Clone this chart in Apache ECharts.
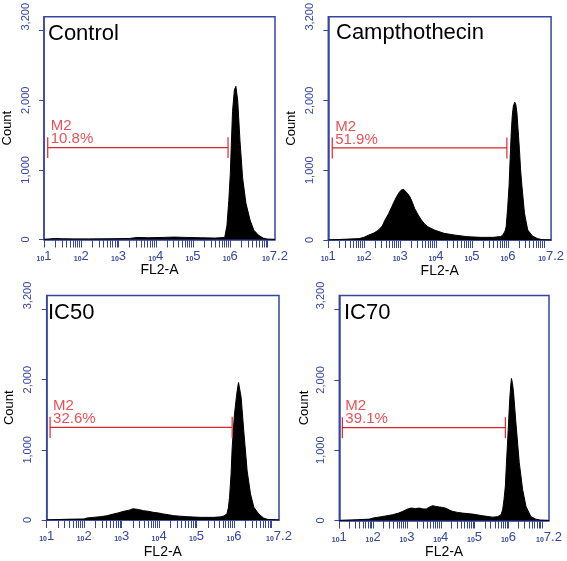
<!DOCTYPE html>
<html><head><meta charset="utf-8">
<script src="https://cdn.jsdelivr.net/npm/echarts@6/dist/echarts.min.js"></script>
<style>html,body{margin:0;padding:0;background:#fff}#c{width:567px;height:561px}</style>
</head><body><div id="c"></div>
<script>
// ---- data (x = log10 FL2-A, y = count) ----
const panelTitles = ['Control', 'Campthothecin', 'IC50', 'IC70'];
const markerName = 'M2';
const markerTexts = ['10.8%', '51.9%', '32.6%', '39.1%'];
const markerStart = [1.10, 1.11, 1.09, 1.09];
const markerEnd = [5.94, 5.97, 5.95, 5.91];
const markerLevel = 1320;
const markerHalf = 150;

const controlData = [[1.0,0],[1.02,20],[1.3,15],[1.5,10],[1.8,8],[2.2,8],[2.8,10],[3.3,15],[3.5,30],[3.8,25],[4.2,30],[4.5,35],[4.8,30],[5.2,25],[5.6,20],[5.85,30],[5.91,200],[5.96,560],[6.0,940],[6.03,1400],[6.06,1840],[6.11,2150],[6.15,2200],[6.2,1990],[6.26,1420],[6.33,890],[6.42,520],[6.53,280],[6.63,135],[6.75,65],[6.88,20],[7.0,5],[7.2,0]];
const camptoData = [[1.0,0],[1.05,15],[1.5,12],[1.86,20],[2.0,40],[2.13,72],[2.27,100],[2.4,144],[2.5,200],[2.58,288],[2.68,380],[2.77,480],[2.85,570],[2.9,620],[2.97,680],[3.04,720],[3.1,725],[3.13,710],[3.2,670],[3.27,620],[3.34,540],[3.4,455],[3.5,360],[3.59,288],[3.68,230],[3.77,190],[3.95,144],[4.22,96],[4.5,72],[4.86,48],[5.23,38],[5.59,38],[5.8,50],[5.86,72],[5.92,130],[5.95,190],[5.99,450],[6.03,770],[6.06,1150],[6.09,1530],[6.12,1780],[6.15,1920],[6.19,1975],[6.22,1940],[6.25,1820],[6.28,1600],[6.32,1295],[6.35,1020],[6.39,770],[6.46,385],[6.55,144],[6.68,58],[6.82,20],[6.95,5],[7.2,0]];
const ic50Data = [[1.0,0],[1.05,12],[1.5,10],[2.0,15],[2.07,28],[2.43,47],[2.6,60],[2.78,85],[2.9,100],[3.05,123],[3.2,140],[3.3,160],[3.35,166],[3.45,150],[3.58,133],[3.7,125],[3.85,109],[4.0,98],[4.12,85],[4.25,75],[4.39,62],[4.55,55],[4.74,47],[5.1,38],[5.46,38],[5.65,45],[5.72,57],[5.81,85],[5.85,180],[5.88,322],[5.92,650],[5.95,1030],[6.01,1500],[6.07,1790],[6.1,1900],[6.12,1960],[6.14,1965],[6.19,1745],[6.26,1270],[6.35,700],[6.44,370],[6.53,180],[6.66,85],[6.79,28],[6.9,8],[7.2,0]];
const ic70Data = [[1.0,0],[1.05,10],[1.5,10],[1.9,20],[1.99,34],[2.29,58],[2.58,82],[2.75,105],[2.88,130],[3.0,160],[3.12,177],[3.25,170],[3.37,177],[3.47,165],[3.57,163],[3.66,190],[3.76,211],[3.86,200],[3.96,192],[4.06,185],[4.16,173],[4.25,150],[4.35,130],[4.5,115],[4.65,105],[4.94,91],[5.24,67],[5.53,48],[5.68,55],[5.78,80],[5.83,153],[5.87,300],[5.91,490],[5.94,800],[5.98,1160],[6.01,1450],[6.04,1735],[6.07,1930],[6.09,2020],[6.12,1950],[6.15,1830],[6.22,1400],[6.32,825],[6.42,440],[6.52,200],[6.66,58],[6.81,19],[6.95,5],[7.2,0]];

const yLabelValues = [0, 1000, 2000, 3200];
const yTickValues = [0, 1000, 2000, 3000];
const xLabelValues = [1, 2, 3, 4, 5, 6, 7.2];
const xDecades = [1, 2, 3, 4, 5, 6, 7];
const xMinorMultipliers = [1, 2, 3, 4, 5, 6, 7, 8, 9];

// ---- layout ----
const BLUE = '#3646a0';
const RED = '#e0262c';
const FONT = 'Arial, "Liberation Sans", sans-serif';
const allData = [controlData, camptoData, ic50Data, ic70Data];
const grids = [
  {left: 42.7, top: 15.5, width: 232.3, height: 224},
  {left: 328.3, top: 16.5, width: 226.7, height: 223.5},
  {left: 46.7, top: 295.5, width: 232.3, height: 224.5},
  {left: 339.3, top: 295.5, width: 209.7, height: 225}
];
const titlePos = [[48, 23], [336, 22], [48, 302], [344, 302]];
const xNameGap = [20, 20, 25, 25];
const yNameGap = [30, 30, 31, 28];

const xTicks = [];
xDecades.forEach(d => xMinorMultipliers.forEach(m => {
  const v = d + Math.log10(m);
  if (v <= 7.2 + 1e-9) xTicks.push(v);
}));

const option = {
  animation: false,
  backgroundColor: '#fff',
  textStyle: {fontFamily: FONT},
  title: panelTitles.map((t, i) => ({
    text: t, left: titlePos[i][0], top: titlePos[i][1], padding: 0,
    textStyle: {fontSize: 22, fontWeight: 'normal', color: '#000', fontFamily: FONT}
  })),
  grid: grids.map(g => Object.assign({show: true, borderColor: BLUE, borderWidth: 1.5, backgroundColor: 'transparent', containLabel: false}, g)),
  xAxis: grids.map((g, i) => ({
    type: 'value', gridIndex: i, min: 1, max: 7.2,
    axisLine: {show: true, onZero: false, lineStyle: {color: BLUE, width: 1.5}},
    axisTick: {show: true, inside: false, length: 8, customValues: xTicks, lineStyle: {color: BLUE, width: 1}},
    axisLabel: {
      customValues: xLabelValues, margin: 10, color: BLUE, fontSize: 13,
      formatter: v => '{s|10}{e|' + String(v) + '}',
      rich: {
        s: {fontSize: 7, fontWeight: 'bold', color: BLUE, verticalAlign: 'bottom', fontFamily: FONT},
        e: {fontSize: 13, color: BLUE, verticalAlign: 'bottom', fontFamily: FONT}
      }
    },
    splitLine: {show: false},
    name: 'FL2-A', nameLocation: 'middle', nameGap: xNameGap[i],
    nameTextStyle: {color: '#000', fontSize: 14, fontFamily: FONT}
  })),
  yAxis: grids.map((g, i) => ({
    type: 'value', gridIndex: i, min: 0, max: 3200,
    axisLine: {show: true, lineStyle: {color: BLUE, width: 1.5}},
    axisTick: {show: true, inside: false, length: 5, customValues: yTickValues, lineStyle: {color: BLUE, width: 1}},
    axisLabel: {
      customValues: yLabelValues, rotate: 90, margin: 13, color: BLUE, fontSize: 11, fontFamily: FONT,
      formatter: v => Number(v).toLocaleString('en-US')
    },
    splitLine: {show: false},
    name: 'Count', nameLocation: 'middle', nameGap: yNameGap[i], nameRotate: 90,
    nameTextStyle: {color: '#000', fontSize: 13, fontFamily: FONT}
  })),
  series: []
};

allData.forEach((d, i) => {
  option.series.push({
    type: 'line', xAxisIndex: i, yAxisIndex: i, data: d,
    symbol: 'none', silent: true, z: 2,
    lineStyle: {color: '#000', width: 1},
    areaStyle: {color: '#000', opacity: 1}
  });
  const s = markerStart[i], e = markerEnd[i];
  option.series.push({
    type: 'line', xAxisIndex: i, yAxisIndex: i, symbol: 'none', silent: true, z: 5,
    lineStyle: {color: RED, width: 1.2},
    data: [[s, markerLevel + markerHalf], [s, markerLevel - markerHalf], [s, markerLevel],
           [e, markerLevel], [e, markerLevel + markerHalf], [e, markerLevel - markerHalf]]
  });
  option.series.push({
    type: 'scatter', xAxisIndex: i, yAxisIndex: i, symbolSize: 0, silent: true, z: 6,
    data: [[s, markerLevel]],
    label: {
      show: true, position: [3, -28], color: RED, fontSize: 15, lineHeight: 13, fontFamily: FONT,
      formatter: markerName + '\n' + markerTexts[i]
    }
  });
});

const chart = echarts.init(document.getElementById('c'), null, {renderer: 'canvas'});
chart.setOption(option);
</script>
</body></html>
